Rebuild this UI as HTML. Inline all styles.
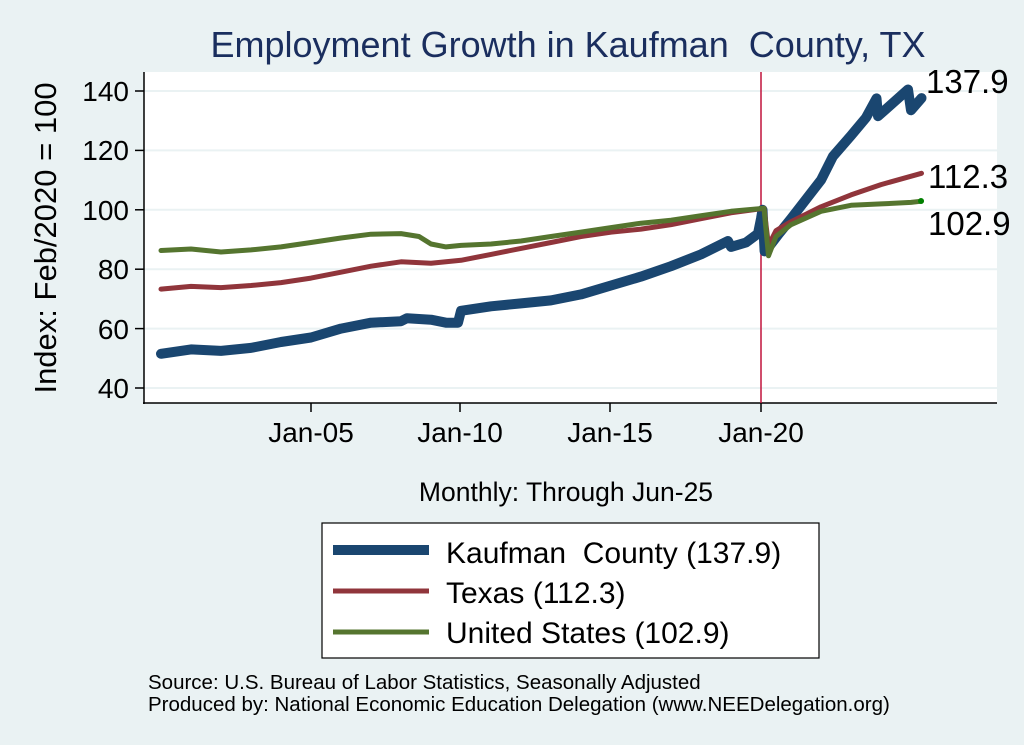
<!DOCTYPE html>
<html><head><meta charset="utf-8"><style>
html,body{margin:0;padding:0;background:#EAF2F3;}
svg{display:block;font-family:"Liberation Sans",Arial,sans-serif;}
</style></head><body>
<svg id="s" width="1024" height="745" viewBox="0 0 1024 745" xmlns="http://www.w3.org/2000/svg">
<rect width="1024" height="745" fill="#EAF2F3"/>
<rect x="144" y="72" width="853" height="331" fill="#fff"/>
<g stroke="#EAF2F3" stroke-width="2">
<line x1="144" x2="997" y1="91" y2="91"/><line x1="144" x2="997" y1="150.4" y2="150.4"/>
<line x1="144" x2="997" y1="209.8" y2="209.8"/><line x1="144" x2="997" y1="269.2" y2="269.2"/>
<line x1="144" x2="997" y1="328.6" y2="328.6"/><line x1="144" x2="997" y1="388" y2="388"/>
</g>
<g stroke="#000" stroke-width="1.5">
<line x1="144" y1="72" x2="144" y2="404"/><line x1="143" y1="403" x2="997" y2="403"/>
<line x1="135" x2="144" y1="91" y2="91"/><line x1="135" x2="144" y1="150.4" y2="150.4"/>
<line x1="135" x2="144" y1="209.8" y2="209.8"/><line x1="135" x2="144" y1="269.2" y2="269.2"/>
<line x1="135" x2="144" y1="328.6" y2="328.6"/><line x1="135" x2="144" y1="388" y2="388"/>
<line x1="311" x2="311" y1="403" y2="412"/><line x1="460" x2="460" y1="403" y2="412"/>
<line x1="610" x2="610" y1="403" y2="412"/><line x1="761" x2="761" y1="403" y2="412"/>
</g>
<g font-size="28" text-anchor="end" fill="#000">
<text x="129" y="101">140</text><text x="129" y="160">120</text><text x="129" y="220">100</text>
<text x="129" y="279">80</text><text x="129" y="339">60</text><text x="129" y="398">40</text>
</g>
<g font-size="28" text-anchor="middle">
<text x="311" y="442">Jan-05</text><text x="460" y="442">Jan-10</text>
<text x="610" y="442">Jan-15</text><text x="761" y="442">Jan-20</text>
<text x="566" y="501" font-size="26.5">Monthly: Through Jun-25</text>
</g>
<text x="568" y="57" font-size="36" text-anchor="middle" fill="#1A2E5E">Employment Growth in Kaufman&#160; County, TX</text>
<text transform="translate(56,238) rotate(-90)" font-size="31" text-anchor="middle">Index: Feb/2020 = 100</text>
<line x1="761" x2="761" y1="72" y2="403" stroke="#C0143C" stroke-width="1.5"/>
<g id="lines" fill="none" stroke-linejoin="round" stroke-linecap="round"></g>
<circle cx="921" cy="201" r="3" fill="#008000"/>
<g font-size="33">
<text x="926" y="93">137.9</text><text x="928" y="188">112.3</text><text x="928" y="235">102.9</text>
</g>
<rect x="322" y="523" width="497" height="135" fill="#fff" stroke="#000" stroke-width="1.2"/>
<line x1="333" x2="429" y1="550" y2="550" stroke="#1A4670" stroke-width="10"/>
<line x1="333" x2="429" y1="591" y2="591" stroke="#90353B" stroke-width="5"/>
<line x1="333" x2="429" y1="632" y2="632" stroke="#55752F" stroke-width="5"/>
<g font-size="30">
<text x="446" y="563">Kaufman&#160; County (137.9)</text>
<text x="446" y="603">Texas (112.3)</text>
<text x="446" y="643">United States (102.9)</text>
</g>
<g font-size="20.5">
<text x="148" y="689">Source: U.S. Bureau of Labor Statistics, Seasonally Adjusted</text>
<text x="148" y="711">Produced by: National Economic Education Delegation (www.NEEDelegation.org)</text>
</g>
</svg>
<script>
function X(t){return 161+(t-2000)*30;}
function Y(v){return 91+(140-v)*2.97;}
var K=[[2000,51.5],[2001,53],[2002,52.5],[2002.5,53],[2003,53.5],[2004,55.5],[2005,57],[2006,60],[2007,62],[2008,62.5],[2008.2,63.5],[2009,63],[2009.5,62],[2009.9,62],[2010,66],[2011,67.5],[2012,68.5],[2013,69.5],[2014,71.5],[2015,74.5],[2016,77.5],[2017,81],[2018,85],[2018.9,89.5],[2019,87.5],[2019.5,89],[2019.9,92],[2020.0,97],[2020.05,100],[2020.12,86],[2020.3,88],[2020.6,92],[2021,97],[2022,110],[2022.4,118],[2023,125],[2023.5,131],[2023.85,137.5],[2023.9,131.5],[2024.9,140.5],[2025.0,133.5],[2025.35,137.6]];
var T=[[2000,73.3],[2001,74.2],[2002,73.8],[2003,74.5],[2004,75.5],[2005,77],[2006,79],[2007,81],[2008,82.5],[2009,82],[2010,83],[2011,85],[2012,87],[2013,89],[2014,91],[2015,92.5],[2016,93.5],[2017,95],[2018,97],[2019,99],[2020.1,100.5],[2020.25,88],[2020.5,93],[2021,96],[2022,101],[2023,105],[2024,108.5],[2025.35,112.3]];
var U=[[2000,86.3],[2001,86.8],[2002,85.8],[2003,86.5],[2004,87.5],[2005,89],[2006,90.5],[2007,91.8],[2008,92],[2008.6,91],[2009,88.5],[2009.5,87.5],[2010,88],[2011,88.5],[2012,89.5],[2013,91],[2014,92.5],[2015,94],[2016,95.5],[2017,96.5],[2018,98],[2019,99.5],[2020.1,100.5],[2020.25,84.5],[2020.5,91],[2021,95],[2022,99.5],[2023,101.5],[2024,102],[2025,102.5],[2025.35,102.9]];
function P(a,c,w){var p=document.createElementNS("http://www.w3.org/2000/svg","polyline");
p.setAttribute("points",a.map(function(d){return X(d[0]).toFixed(1)+","+Y(d[1]).toFixed(1);}).join(" "));
p.setAttribute("stroke",c);p.setAttribute("stroke-width",w);document.getElementById("lines").appendChild(p);}
P(K,"#1A4670",10);P(T,"#90353B",5);P(U,"#55752F",5);
</script>
</body></html>
